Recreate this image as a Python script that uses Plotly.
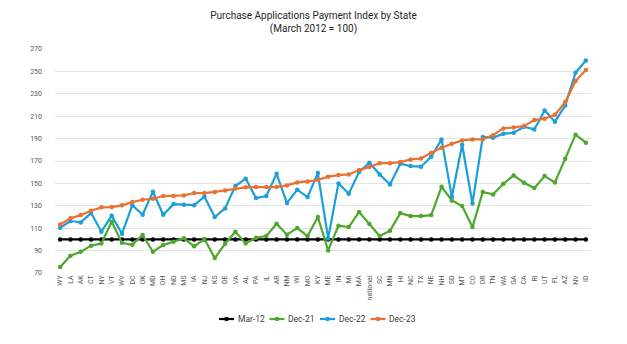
import plotly.graph_objects as go

states = ["WY","LA","AK","CT","NY","VT","WV","DC","OK","MD","OH","ND","MS","IA","NJ","KS","DE","VA","AL","PA",
          "IL","AR","NM","WI","MO","KY","ME","IN","MI","MA","national","SC","MN","HI","NC","TX","NE","NH","SD","MT",
          "CO","OR","TN","WA","GA","CA","RI","UT","FL","AZ","NV","ID"]

mar12 = [100] * len(states)

dec21 = [75.3, 85.4, 89, 94.4, 96.4, 115.8, 97, 95.2, 103.9, 89, 94.9, 97.9, 101, 93.8, 100.3, 83.3, 96.1, 106.9, 96.4, 101.5,
         103, 114, 104.2, 110.1, 103, 120, 90.2, 112.2, 111, 124.4, 113.7, 103, 107.7, 123.5, 120.8, 120.8, 121.7, 147, 134.8, 129.8,
         111, 142.3, 140.2, 149.7, 157.1, 150.6, 145.8, 156.5, 150.9, 172, 193.5, 186.3]

dec22 = [110.4, 116.4, 115.2, 123.5, 106.9, 121.2, 105.1, 130.6, 122, 142.6, 122, 131.5, 131, 130.6, 138.1, 120, 127.7, 147.6, 154.2, 136.9,
         138.7, 158.6, 132.4, 144.4, 137.8, 159.2, 100.9, 150, 140.8, 160.1, 168.5, 158, 149.1, 167.6, 165.5, 164.9, 173.8, 189.3, 138.1, 184.5,
         132.1, 191.4, 190.8, 194.4, 195.2, 200.6, 198.2, 215.2, 205.1, 219.6, 248.8, 259.8]

dec23 = [113.4, 118.8, 121.7, 125.6, 128.6, 128.9, 130.4, 133.3, 135.4, 136.3, 138.7, 138.7, 139.3, 141.4, 141.4, 142.4, 143.7, 145.5, 146.5, 146.7,
         146.7, 146.7, 148.2, 150.9, 151.8, 153, 156, 157.4, 158, 161.9, 164.6, 168.1, 168.1, 169, 171.4, 172.2, 177.4, 181.8, 185.4, 188.4,
         189.3, 189.3, 193.1, 199.1, 200, 201.2, 206.5, 207.8, 211.3, 222.6, 241.4, 251.2]

y_ticks = [70, 90, 110, 130, 150, 170, 190, 210, 230, 250, 270]

series = [
    ("Mar-12", mar12, "#000000"),
    ("Dec-21", dec21, "#4EA72E"),
    ("Dec-22", dec22, "#1A9FD9"),
    ("Dec-23", dec23, "#E97132"),
]

W, H = 627, 344
ML, MR, MT, MB = 55, 36, 49, 71
PW, PH = W - ML - MR, H - MT - MB

fig = go.Figure()
for name, vals, col in series:
    fig.add_trace(go.Scatter(
        x=states, y=vals, name=name, mode="lines+markers",
        line=dict(color=col, width=2.2),
        marker=dict(color=col, size=4.5, symbol="circle"),
        showlegend=False,
    ))

font_fam = "Roboto, Liberation Sans, sans-serif"

# compact Excel-style legend below the chart
def px_x(px):
    return (px - ML) / PW

def px_y(py):
    return (H - MB - py) / PH

leg_y = 319
leg_start = 219
leg_step = 50.5
shapes, annotations = [], []
for i, (name, vals, col) in enumerate(series):
    x0 = leg_start + i * leg_step
    shapes.append(dict(type="line", xref="paper", yref="paper",
                       x0=px_x(x0), x1=px_x(x0 + 15), y0=px_y(leg_y), y1=px_y(leg_y),
                       line=dict(color=col, width=2.2)))
    shapes.append(dict(type="circle", xref="paper", yref="paper",
                       x0=px_x(x0 + 5.3), x1=px_x(x0 + 9.7), y0=px_y(leg_y - 2.2), y1=px_y(leg_y + 2.2),
                       fillcolor=col, line=dict(color=col, width=0)))
    annotations.append(dict(text=name, xref="paper", yref="paper", x=px_x(x0 + 16.5), y=px_y(leg_y),
                            xanchor="left", yanchor="middle", showarrow=False,
                            font=dict(family=font_fam, size=8.5, color="#404040")))

fig.update_layout(
    width=W, height=H,
    margin=dict(l=ML, r=MR, t=MT, b=MB),
    paper_bgcolor="white", plot_bgcolor="white",
    font=dict(family=font_fam, color="#595959", size=8),
    title=dict(
        text="Purchase Applications Payment Index by State<br>(March 2012 = 100)",
        x=0.5, xref="container", xanchor="center",
        y=1 - 19 / H, yref="container", yanchor="middle",
        font=dict(family=font_fam, size=10, color="#262626"),
    ),
    showlegend=False,
    shapes=shapes,
    annotations=annotations,
    xaxis=dict(
        type="category", range=[-0.5, len(states) - 0.5],
        tickangle=-90, tickfont=dict(size=7, color="#595959"),
        showgrid=False, showline=False, ticks="", zeroline=False,
    ),
    yaxis=dict(
        range=[70, 270], tickvals=y_ticks,
        tickfont=dict(size=7, color="#595959"),
        showgrid=True, gridcolor="#E3E3E3", gridwidth=1,
        showline=False, ticks="", zeroline=False,
        ticklabelstandoff=12,
    ),
)

fig.write_html("out.html")
